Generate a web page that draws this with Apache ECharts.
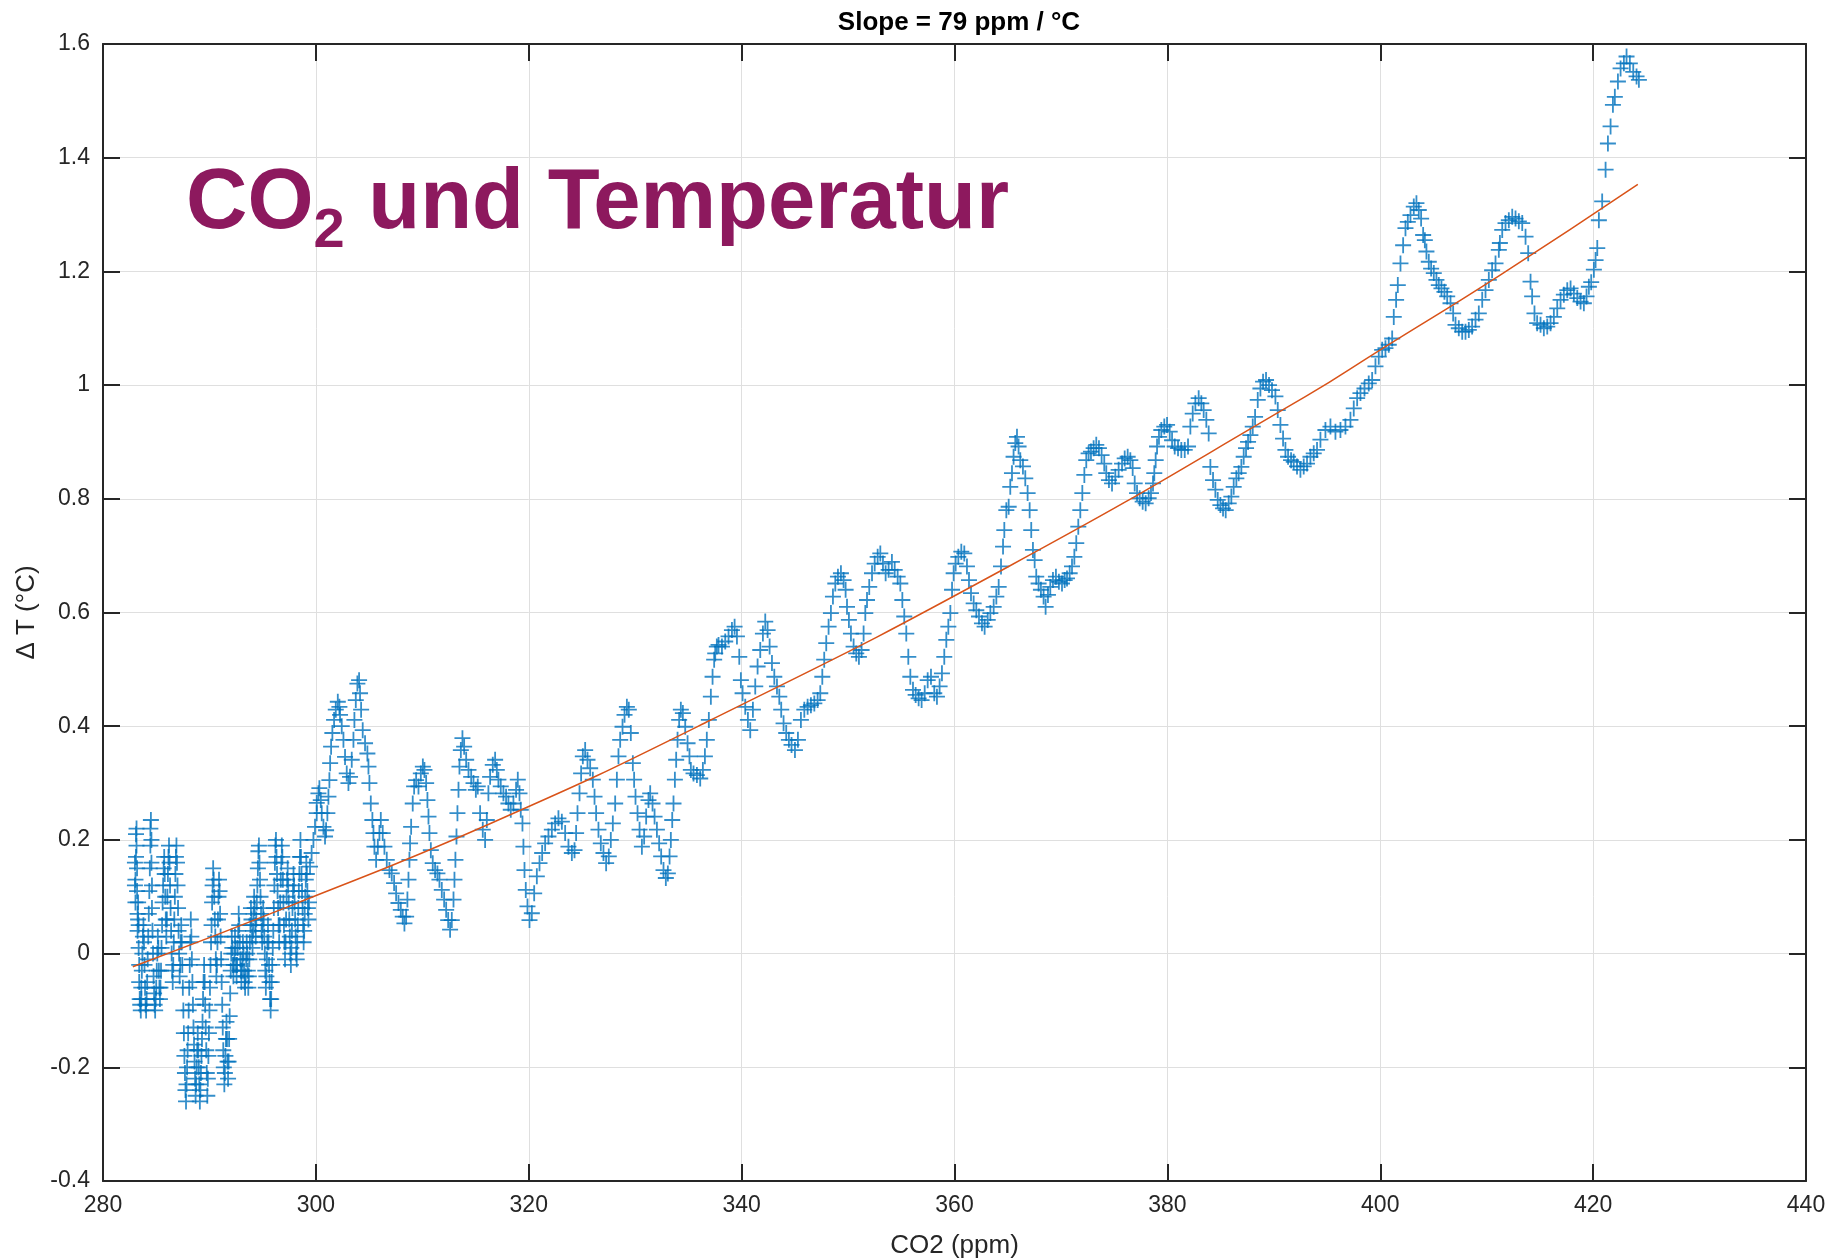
<!DOCTYPE html>
<html>
<head>
<meta charset="utf-8">
<title>CO2 und Temperatur</title>
<script src="https://cdn.jsdelivr.net/npm/echarts@6/dist/echarts.min.js"></script>
<style>
    html, body { margin: 0; padding: 0; background: #fff; }
    #main { width: 1835px; height: 1259px; }
</style>
</head>
<body>
<div id="main"></div>
<script>
// [CO2 (ppm), delta T (°C)], in time order
const samples = [
    [283.0,0.16],[283.0,0.12],[283.05,0.09],[283.05,0.13],[283.1,0.17],[283.1,0.21],[283.15,0.22],[283.15,0.19],[283.2,0.15],[283.2,0.11],
    [283.25,0.07],[283.25,0.04],[283.3,0.06],[283.3,0.09],[283.35,0.05],[283.35,0.01],[283.4,-0.02],[283.4,-0.05],[283.45,-0.08],[283.5,-0.09],
    [283.55,-0.1],[283.6,-0.08],[283.6,-0.06],[283.65,-0.03],[283.7,0.0],[283.75,0.03],[283.8,0.05],[283.85,0.02],[283.9,-0.02],[283.95,-0.06],
    [284.0,-0.09],[284.05,-0.1],[284.1,-0.08],[284.15,-0.05],[284.2,-0.01],[284.25,0.03],[284.3,0.07],[284.35,0.11],[284.4,0.15],[284.45,0.19],
    [284.45,0.22],[284.5,0.235],[284.55,0.2],[284.55,0.16],[284.6,0.12],[284.6,0.08],[284.65,0.04],[284.7,0.0],[284.75,-0.04],[284.8,-0.07],
    [284.85,-0.09],[284.9,-0.1],[284.95,-0.08],[285.0,-0.06],[285.05,-0.03],[285.1,0.0],[285.15,0.03],[285.2,0.01],[285.25,-0.03],[285.3,-0.06],
    [285.35,-0.08],[285.4,-0.06],[285.45,-0.03],[285.5,0.01],[285.55,0.05],[285.6,0.09],[285.65,0.12],[285.7,0.15],[285.75,0.17],[285.8,0.14],
    [285.85,0.1],[285.9,0.06],[285.95,0.03],[286.0,0.06],[286.05,0.1],[286.1,0.14],[286.15,0.17],[286.2,0.19],[286.25,0.16],[286.3,0.12],
    [286.35,0.08],[286.4,0.04],[286.45,0.0],[286.5,-0.03],[286.55,-0.05],[286.6,-0.02],[286.65,0.02],[286.7,0.06],[286.75,0.1],[286.8,0.14],
    [286.85,0.17],[286.9,0.19],[286.95,0.16],[287.0,0.12],[287.05,0.08],[287.1,0.04],[287.15,0.0],[287.2,-0.04],[287.25,-0.02],[287.3,0.02],
    [287.35,0.05],[287.4,0.02],[287.45,-0.02],[287.5,-0.06],[287.55,-0.1],[287.6,-0.14],[287.65,-0.18],[287.7,-0.21],[287.75,-0.24],[287.8,-0.26],
    [287.85,-0.23],[287.9,-0.2],[287.95,-0.17],[288.0,-0.14],[288.05,-0.1],[288.1,-0.06],[288.15,-0.02],[288.2,0.02],[288.25,0.06],[288.3,0.03],
    [288.35,-0.01],[288.4,-0.05],[288.45,-0.09],[288.5,-0.13],[288.55,-0.16],[288.6,-0.19],[288.65,-0.22],[288.7,-0.25],[288.75,-0.23],[288.8,-0.2],
    [288.85,-0.17],[288.9,-0.14],[288.95,-0.17],[289.0,-0.2],[289.05,-0.23],[289.1,-0.26],[289.15,-0.24],[289.2,-0.21],[289.25,-0.18],[289.3,-0.15],
    [289.35,-0.12],[289.4,-0.08],[289.45,-0.05],[289.5,-0.02],[289.55,-0.05],[289.6,-0.09],[289.65,-0.13],[289.7,-0.17],[289.75,-0.21],[289.8,-0.25],
    [289.85,-0.22],[289.9,-0.18],[289.95,-0.14],[290.0,-0.1],[290.05,-0.06],[290.1,-0.02],[290.15,0.02],[290.2,0.05],[290.25,0.09],[290.3,0.12],
    [290.35,0.15],[290.4,0.13],[290.45,0.1],[290.5,0.06],[290.55,0.03],[290.6,-0.01],[290.65,-0.04],[290.7,-0.02],[290.75,0.02],[290.8,0.06],
    [290.85,0.1],[290.9,0.13],[290.95,0.11],[291.0,0.07],[291.05,0.03],[291.1,-0.01],[291.15,-0.05],[291.2,-0.09],[291.25,-0.13],[291.3,-0.17],
    [291.35,-0.2],[291.4,-0.23],[291.45,-0.21],[291.5,-0.18],[291.55,-0.15],[291.6,-0.12],[291.65,-0.15],[291.7,-0.19],[291.75,-0.22],[291.8,-0.19],
    [291.85,-0.15],[291.9,-0.11],[291.95,-0.07],[292.0,-0.03],[292.05,0.0],[292.1,0.03],[292.15,0.01],[292.2,-0.02],[292.25,-0.04],[292.3,-0.02],
    [292.35,0.0],[292.4,0.03],[292.45,0.01],[292.5,-0.02],[292.55,-0.04],[292.6,-0.02],[292.65,0.01],[292.7,0.04],[292.75,0.07],[292.8,0.05],
    [292.85,0.02],[292.9,-0.01],[292.95,-0.03],[293.0,-0.05],[293.05,-0.03],[293.1,-0.01],[293.15,0.02],[293.2,0.0],[293.25,-0.03],[293.3,-0.05],
    [293.35,-0.06],[293.4,-0.04],[293.45,-0.01],[293.5,0.02],[293.55,0.0],[293.6,-0.03],[293.65,-0.06],[293.7,-0.04],[293.75,-0.01],[293.8,0.02],
    [293.85,0.05],[293.9,0.08],[293.95,0.06],[294.0,0.03],[294.05,0.01],[294.1,0.04],[294.15,0.07],[294.2,0.1],[294.25,0.08],[294.3,0.05],
    [294.35,0.03],[294.4,0.06],[294.45,0.09],[294.5,0.12],[294.55,0.15],[294.6,0.18],[294.65,0.19],[294.7,0.16],[294.75,0.13],[294.8,0.1],
    [294.85,0.07],[294.9,0.04],[294.95,0.02],[295.0,0.05],[295.05,0.08],[295.1,0.06],[295.15,0.03],[295.2,0.0],[295.25,-0.03],[295.3,-0.06],
    [295.35,-0.04],[295.4,-0.01],[295.45,0.02],[295.5,0.05],[295.55,0.02],[295.6,-0.02],[295.65,-0.05],[295.7,-0.08],[295.75,-0.1],[295.8,-0.08],
    [295.85,-0.05],[295.9,-0.02],[295.95,0.01],[296.0,0.04],[296.05,0.08],[296.1,0.12],[296.15,0.16],[296.2,0.19],[296.25,0.2],[296.3,0.17],
    [296.35,0.14],[296.4,0.11],[296.45,0.08],[296.5,0.05],[296.55,0.02],[296.6,0.05],[296.65,0.09],[296.7,0.13],[296.75,0.16],[296.8,0.19],
    [296.85,0.17],[296.9,0.13],[296.95,0.09],[297.0,0.05],[297.05,0.02],[297.1,-0.01],[297.15,0.02],[297.2,0.06],[297.25,0.1],[297.3,0.13],
    [297.35,0.15],[297.4,0.12],[297.45,0.09],[297.5,0.06],[297.55,0.03],[297.6,0.0],[297.65,-0.02],[297.7,0.01],[297.75,0.04],[297.8,0.08],
    [297.85,0.11],[297.9,0.14],[297.95,0.12],[298.0,0.09],[298.05,0.06],[298.1,0.03],[298.15,0.0],[298.2,-0.01],[298.25,0.02],[298.3,0.05],
    [298.35,0.08],[298.4,0.11],[298.45,0.14],[298.5,0.17],[298.55,0.2],[298.6,0.17],[298.65,0.14],[298.7,0.11],[298.75,0.08],[298.8,0.05],
    [298.85,0.02],[298.9,0.04],[298.95,0.07],[299.0,0.1],[299.05,0.13],[299.1,0.16],[299.15,0.14],[299.2,0.11],[299.25,0.08],[299.3,0.06],
    [299.35,0.09],[299.45,0.153],[299.6,0.177],[299.77,0.2],[299.92,0.223],[300.08,0.247],[300.08,0.265],[300.24,0.282],[300.33,0.291],[300.46,0.27],
    [300.55,0.247],[300.71,0.223],[300.86,0.206],[300.96,0.217],[301.08,0.247],[301.18,0.276],[301.27,0.305],[301.34,0.335],[301.43,0.364],[301.55,0.388],
    [301.71,0.411],[301.87,0.429],[302.06,0.443],[302.21,0.434],[302.27,0.42],[302.43,0.4],[302.59,0.376],[302.74,0.346],[302.9,0.317],[303.06,0.3],
    [303.21,0.311],[303.37,0.341],[303.53,0.376],[303.62,0.411],[303.75,0.446],[303.9,0.475],[304.06,0.481],[304.15,0.458],[304.25,0.429],[304.4,0.393],
    [304.62,0.37],[304.84,0.352],[304.94,0.329],[305.03,0.3],[305.16,0.264],[305.31,0.235],[305.41,0.212],[305.5,0.188],[305.66,0.165],[305.82,0.188],
    [305.97,0.212],[306.1,0.235],[306.28,0.212],[306.44,0.188],[306.66,0.165],[306.91,0.147],[307.13,0.141],[307.35,0.124],[307.54,0.106],[307.76,0.089],
    [307.98,0.077],[308.16,0.065],[308.32,0.053],[308.48,0.065],[308.6,0.095],[308.7,0.13],[308.79,0.165],[308.85,0.194],[308.95,0.223],[309.1,0.264],
    [309.23,0.294],[309.42,0.305],[309.64,0.294],[309.86,0.317],[310.05,0.329],[310.2,0.323],[310.36,0.3],[310.48,0.27],[310.58,0.241],[310.67,0.212],
    [310.8,0.182],[310.98,0.159],[311.2,0.147],[311.42,0.141],[311.61,0.13],[311.83,0.112],[312.05,0.095],[312.24,0.077],[312.43,0.059],[312.61,0.042],
    [312.77,0.059],[312.93,0.095],[313.02,0.13],[313.11,0.165],[313.21,0.206],[313.3,0.247],[313.4,0.288],[313.49,0.329],[313.62,0.358],[313.77,0.379],
    [313.93,0.364],[314.12,0.341],[314.34,0.323],[314.59,0.311],[314.81,0.3],[315.03,0.288],[315.21,0.294],[315.43,0.247],[315.68,0.218],[315.9,0.2],
    [316.06,0.235],[316.21,0.282],[316.37,0.311],[316.62,0.332],[316.84,0.341],[317.0,0.323],[317.15,0.306],[317.37,0.294],[317.62,0.282],[317.87,0.276],
    [318.09,0.264],[318.31,0.253],[318.56,0.264],[318.81,0.288],[318.97,0.306],[319.13,0.282],[319.25,0.253],[319.41,0.229],[319.5,0.188],[319.6,0.147],
    [319.72,0.112],[319.88,0.083],[320.07,0.059],[320.29,0.071],[320.51,0.106],[320.76,0.136],[321.01,0.159],[321.26,0.177],[321.54,0.194],[321.85,0.206],
    [322.17,0.218],[322.48,0.229],[322.79,0.238],[323.11,0.232],[323.42,0.212],[323.73,0.188],[324.05,0.177],[324.3,0.182],[324.45,0.212],[324.58,0.247],
    [324.77,0.282],[324.92,0.317],[325.08,0.347],[325.3,0.358],[325.52,0.341],[325.77,0.326],[326.02,0.306],[326.18,0.276],[326.33,0.247],[326.55,0.218],
    [326.77,0.194],[327.02,0.177],[327.27,0.159],[327.52,0.171],[327.71,0.2],[327.9,0.229],[328.12,0.264],[328.28,0.306],[328.43,0.347],[328.59,0.376],
    [328.81,0.399],[329.0,0.42],[329.22,0.434],[329.4,0.429],[329.59,0.388],[329.78,0.335],[329.9,0.306],[330.03,0.276],[330.22,0.247],[330.41,0.218],
    [330.63,0.188],[330.84,0.206],[331.03,0.241],[331.25,0.27],[331.41,0.282],[331.63,0.264],[331.82,0.241],[332.04,0.218],[332.25,0.194],[332.44,0.171],
    [332.66,0.147],[332.88,0.133],[333.07,0.141],[333.23,0.171],[333.35,0.2],[333.48,0.235],[333.6,0.264],[333.73,0.306],[333.85,0.341],[333.98,0.376],
    [334.13,0.411],[334.29,0.429],[334.48,0.423],[334.7,0.399],[334.92,0.37],[335.1,0.347],[335.23,0.323],[335.48,0.317],[335.8,0.314],[336.11,0.308],
    [336.36,0.323],[336.55,0.347],[336.73,0.376],[336.92,0.411],[337.11,0.452],[337.27,0.487],[337.42,0.517],[337.52,0.528],[337.67,0.54],[337.83,0.543],
    [338.15,0.54],[338.46,0.549],[338.77,0.558],[339.09,0.569],[339.34,0.575],[339.56,0.558],[339.78,0.522],[339.93,0.481],[340.09,0.458],[340.34,0.434],
    [340.59,0.411],[340.81,0.393],[341.06,0.429],[341.28,0.47],[341.5,0.505],[341.75,0.534],[342.0,0.563],[342.22,0.584],[342.44,0.569],[342.63,0.54],
    [342.85,0.511],[343.07,0.487],[343.32,0.47],[343.54,0.452],[343.72,0.429],[343.94,0.405],[344.19,0.388],[344.44,0.376],[344.69,0.367],[345.01,0.358],
    [345.29,0.376],[345.57,0.411],[345.89,0.429],[346.2,0.434],[346.51,0.437],[346.83,0.44],[347.14,0.446],[347.39,0.458],[347.58,0.487],[347.76,0.517],
    [347.95,0.546],[348.17,0.575],[348.39,0.599],[348.58,0.628],[348.8,0.651],[349.05,0.663],[349.33,0.669],[349.58,0.657],[349.77,0.64],[349.9,0.61],
    [350.08,0.587],[350.27,0.563],[350.52,0.54],[350.77,0.528],[351.02,0.522],[351.27,0.534],[351.46,0.563],[351.62,0.599],[351.78,0.622],[351.99,0.645],
    [352.25,0.669],[352.5,0.686],[352.78,0.698],[353.03,0.704],[353.28,0.686],[353.53,0.669],[353.81,0.675],[354.12,0.689],[354.38,0.675],[354.66,0.663],
    [354.91,0.651],[355.1,0.622],[355.28,0.593],[355.47,0.563],[355.66,0.522],[355.85,0.487],[356.1,0.464],[356.35,0.455],[356.63,0.449],[356.91,0.446],
    [357.2,0.458],[357.48,0.481],[357.79,0.487],[358.1,0.458],[358.35,0.452],[358.6,0.47],[358.82,0.493],[359.04,0.522],[359.23,0.552],[359.42,0.575],
    [359.61,0.599],[359.77,0.64],[359.92,0.669],[360.11,0.686],[360.36,0.698],[360.64,0.707],[360.92,0.704],[361.17,0.681],[361.36,0.657],[361.55,0.634],
    [361.8,0.616],[362.05,0.604],[362.3,0.593],[362.58,0.581],[362.83,0.575],[363.12,0.587],[363.37,0.599],[363.68,0.61],[363.93,0.628],[364.15,0.645],
    [364.37,0.681],[364.56,0.716],[364.68,0.745],[364.87,0.78],[365.09,0.786],[365.24,0.821],[365.4,0.845],[365.55,0.874],[365.71,0.898],[365.87,0.909],
    [366.02,0.892],[366.18,0.868],[366.43,0.857],[366.65,0.836],[366.87,0.81],[367.06,0.78],[367.21,0.745],[367.37,0.71],[367.53,0.692],[367.68,0.663],
    [367.9,0.651],[368.12,0.64],[368.37,0.628],[368.56,0.61],[368.78,0.631],[369.0,0.645],[369.25,0.657],[369.53,0.663],[369.81,0.654],[370.1,0.651],
    [370.35,0.657],[370.57,0.66],[370.82,0.669],[371.04,0.681],[371.26,0.698],[371.44,0.722],[371.63,0.751],[371.82,0.78],[372.01,0.81],[372.2,0.842],
    [372.38,0.868],[372.6,0.88],[372.82,0.883],[373.07,0.889],[373.32,0.895],[373.57,0.889],[373.82,0.877],[374.07,0.862],[374.26,0.845],[374.51,0.833],
    [374.8,0.827],[375.11,0.839],[375.42,0.851],[375.74,0.862],[375.99,0.871],[376.27,0.874],[376.52,0.868],[376.74,0.854],[376.93,0.827],[377.15,0.81],
    [377.4,0.801],[377.68,0.795],[377.96,0.792],[378.24,0.801],[378.46,0.81],[378.65,0.827],[378.77,0.845],[378.9,0.868],[379.03,0.892],[379.21,0.909],
    [379.43,0.921],[379.71,0.927],[379.97,0.93],[380.22,0.918],[380.44,0.903],[380.69,0.892],[381.0,0.889],[381.31,0.886],[381.63,0.886],[381.94,0.892],
    [382.16,0.927],[382.38,0.95],[382.63,0.968],[382.94,0.977],[383.19,0.968],[383.41,0.956],[383.66,0.939],[383.88,0.915],[384.04,0.856],[384.29,0.833],
    [384.51,0.816],[384.73,0.798],[384.98,0.789],[385.23,0.783],[385.48,0.78],[385.76,0.792],[386.01,0.804],[386.23,0.821],[386.48,0.836],[386.7,0.845],
    [386.95,0.856],[387.17,0.874],[387.39,0.889],[387.58,0.9],[387.8,0.912],[388.02,0.927],[388.24,0.944],[388.49,0.974],[388.74,0.994],[388.99,1.006],
    [389.27,1.009],[389.55,1.0],[389.83,0.991],[390.15,0.98],[390.37,0.956],[390.62,0.93],[390.87,0.906],[391.09,0.886],[391.34,0.874],[391.62,0.868],
    [391.87,0.865],[392.18,0.857],[392.5,0.851],[392.81,0.857],[393.12,0.862],[393.44,0.874],[393.75,0.88],[394.06,0.886],[394.38,0.904],[394.85,0.921],
    [395.32,0.927],[395.79,0.918],[396.26,0.921],[396.73,0.927],[397.2,0.939],[397.51,0.959],[397.83,0.977],[398.14,0.986],[398.52,0.994],[398.92,1.003],
    [399.24,1.009],[399.55,1.033],[399.86,1.05],[400.18,1.062],[400.49,1.065],[400.8,1.071],[401.12,1.082],[401.27,1.12],[401.49,1.15],[401.65,1.176],
    [401.9,1.214],[402.15,1.246],[402.37,1.276],[402.59,1.287],[402.84,1.299],[403.15,1.314],[403.4,1.32],[403.62,1.308],[403.84,1.293],[404.03,1.264],
    [404.19,1.255],[404.34,1.235],[404.56,1.217],[404.78,1.205],[405.03,1.197],[405.28,1.185],[405.5,1.176],[405.75,1.17],[406.03,1.164],[406.29,1.156],
    [406.6,1.144],[406.85,1.126],[407.07,1.106],[407.38,1.1],[407.7,1.094],[408.01,1.094],[408.32,1.097],[408.63,1.103],[408.95,1.115],[409.26,1.126],
    [409.58,1.15],[409.89,1.167],[410.2,1.185],[410.51,1.202],[410.83,1.214],[411.14,1.238],[411.24,1.25],[411.46,1.273],[411.77,1.285],[412.08,1.29],
    [412.4,1.296],[412.71,1.293],[413.02,1.288],[413.34,1.285],[413.65,1.261],[413.9,1.232],[414.12,1.182],[414.27,1.156],[414.49,1.126],[414.74,1.109],
    [415.06,1.106],[415.37,1.1],[415.69,1.103],[416.0,1.109],[416.31,1.12],[416.63,1.135],[416.94,1.15],[417.25,1.159],[417.57,1.167],[417.88,1.17],
    [418.19,1.161],[418.51,1.153],[418.82,1.147],[419.13,1.144],[419.38,1.156],[419.6,1.173],[419.82,1.181],[420.07,1.203],[420.23,1.22],[420.39,1.241],
    [420.54,1.29],[420.85,1.323],[421.17,1.379],[421.39,1.425],[421.64,1.455],[421.86,1.493],[422.04,1.507],[422.33,1.534],[422.58,1.557],[422.89,1.566],
    [423.14,1.578],[423.45,1.566],[423.77,1.551],[424.08,1.543],[424.3,1.537]
];

// fitted curve (orange)
const fitCo2 = [282.8, 297.6, 316.3, 337.0, 365.0, 393.0, 400.0, 411.3, 424.2];
const fitT = [-0.023, 0.084, 0.228, 0.41, 0.68, 0.98, 1.062, 1.194, 1.353];

const titleText = 'Slope = 79 ppm / °C';
const xName = 'CO2 (ppm)';
const yName = 'Δ T (°C)';

const FONT = "'Liberation Sans', Arial, Helvetica, sans-serif";
const AX = '#262626';
const PURPLE = '#8d195e';

let myChart = echarts.init(document.getElementById('main'));

function boxAxis(pos, extra) {
    let a = {
        type: 'value',
        position: pos,
        axisLine: { show: true, onZero: false, lineStyle: { color: AX, width: 2 } },
        axisTick: { show: true, inside: true, length: 17, lineStyle: { color: AX, width: 2 } },
        axisLabel: { show: false },
        splitLine: { show: false }
    };
    return Object.assign(a, extra);
}

let option = {
    animation: false,
    backgroundColor: '#fff',
    title: {
        text: titleText,
        left: 954,
        top: 5,
        textAlign: 'center',
        textStyle: { fontFamily: FONT, fontSize: 26, fontWeight: 'bold', color: '#000' }
    },
    grid: {
        left: 103,
        top: 44,
        width: 1703,
        height: 1137,
        containLabel: false,
        outerBoundsMode: 'none'
    },
    xAxis: [
        boxAxis('bottom', {
            min: 280, max: 440, interval: 20,
            name: xName,
            nameLocation: 'middle',
            nameGap: 52,
            nameTextStyle: { fontFamily: FONT, fontSize: 26, color: AX },
            axisLabel: { show: true, fontFamily: FONT, fontSize: 23, color: AX, margin: 13 },
            splitLine: { show: true, lineStyle: { color: '#dfdfdf', width: 1 } }
        }),
        boxAxis('top', { min: 280, max: 440, interval: 20 })
    ],
    yAxis: [
        boxAxis('left', {
            min: -0.4, max: 1.6, interval: 0.2,
            name: yName,
            nameLocation: 'middle',
            nameGap: 53,
            nameTextStyle: { fontFamily: FONT, fontSize: 26, color: AX },
            axisLabel: { show: true, fontFamily: FONT, fontSize: 23, color: AX, margin: 13 },
            splitLine: { show: true, lineStyle: { color: '#dfdfdf', width: 1 } }
        }),
        boxAxis('right', { min: -0.4, max: 1.6, interval: 0.2 })
    ],
    graphic: [
        {
            type: 'text',
            left: 186,
            top: 162,
            z: 100,
            style: {
                text: '{a|CO}{b|2}{a| und Temperatur}',
                fill: PURPLE,
                rich: {
                    a: { fontFamily: FONT, fontWeight: 'bold', fontSize: 85, lineHeight: 86, verticalAlign: 'top', fill: PURPLE },
                    b: { fontFamily: FONT, fontWeight: 'bold', fontSize: 56, lineHeight: 56, padding: [42, 0, 0, 0], verticalAlign: 'top', fill: PURPLE }
                }
            }
        }
    ],
    series: [
        {
            name: 'dT',
            type: 'scatter',
            xAxisIndex: 0,
            yAxisIndex: 0,
            data: samples,
            symbol: 'path://M10,0L10,20M0,10L20,10',
            symbolSize: 16,
            itemStyle: { color: 'rgba(0,0,0,0)', borderColor: '#0072BD', borderWidth: 1.8 },
            emphasis: { disabled: true }
        },
        {
            name: 'fit',
            type: 'line',
            xAxisIndex: 0,
            yAxisIndex: 0,
            data: fitCo2.map((c, i) => [c, fitT[i]]),
            symbol: 'none',
            smooth: true,
            lineStyle: { color: '#D95319', width: 1.5 },
            z: 5
        }
    ]
};

myChart.setOption(option);
</script>
</body>
</html>
